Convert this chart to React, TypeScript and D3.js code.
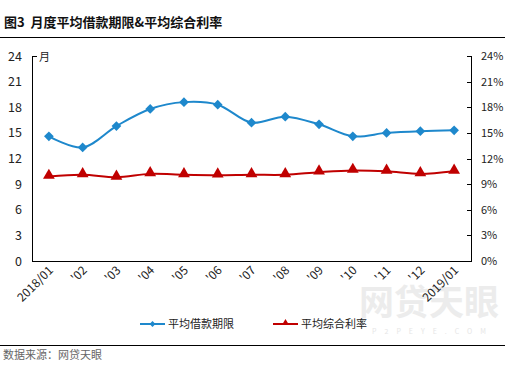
import { useEffect, useRef } from 'react';
import * as d3 from 'd3';

const W = 505;
const H = 365;
const M = { left: 32, right: 471, top: 56, bottom: 261 };

const months = ['2018/01', "'02", "'03", "'04", "'05", "'06", "'07", "'08", "'09", "'10", "'11", "'12", '2019/01'];
const avgTerm = [14.6, 13.3, 15.8, 17.8, 18.6, 18.3, 16.2, 16.9, 16.0, 14.6, 15.0, 15.2, 15.3];
const avgRate = [9.9, 10.1, 9.8, 10.2, 10.1, 10.05, 10.1, 10.1, 10.4, 10.6, 10.5, 10.2, 10.5];
const leftTicks = [0, 3, 6, 9, 12, 15, 18, 21, 24];
const rightTicks = [0, 3, 6, 9, 12, 15, 18, 21, 24];

const BLUE = '#1e88cc';
const RED = '#c00000';
const FONT = '"Noto Sans CJK SC", "Noto Sans", sans-serif';

export default function App() {
  const svgRef = useRef<SVGSVGElement>(null);

  useEffect(() => {
    if (!svgRef.current) return;
    const svg = d3.select(svgRef.current);
    svg.selectAll('*').remove();

    const x = d3.scaleBand<string>().domain(months).range([M.left, M.right]);
    const cx = (m: string) => x(m)! + x.bandwidth() / 2;
    const yL = d3.scaleLinear().domain([0, 24]).range([M.bottom, M.top]);
    const yR = d3.scaleLinear().domain([0, 24]).range([M.bottom, M.top]);

    // title
    svg.append('text')
      .attr('x', 4).attr('y', 27)
      .attr('font-family', FONT).attr('font-size', 13).attr('font-weight', 'bold')
      .attr('fill', '#111')
      .style('white-space', 'pre')
      .text('图3  月度平均借款期限&平均综合利率');
    svg.append('line')
      .attr('x1', 0).attr('x2', W).attr('y1', 37.5).attr('y2', 37.5)
      .attr('stroke', '#000').attr('stroke-width', 1);

    // watermark
    svg.append('text')
      .attr('x', 429).attr('y', 315)
      .attr('text-anchor', 'middle')
      .attr('font-family', FONT).attr('font-size', 35).attr('font-weight', 'bold')
      .attr('fill', '#ececec')
      .text('网贷天眼');
    svg.append('text')
      .attr('x', 433).attr('y', 334)
      .attr('text-anchor', 'middle')
      .attr('font-family', FONT).attr('font-size', 7).attr('letter-spacing', 8)
      .attr('fill', '#e6e6e6')
      .text('P2PEYE.COM');

    // axes lines
    const axes = svg.append('g').attr('stroke', '#000').attr('stroke-width', 1);
    axes.append('line').attr('x1', M.left + 0.5).attr('x2', M.left + 0.5).attr('y1', M.top).attr('y2', M.bottom);
    axes.append('line').attr('x1', M.left).attr('x2', M.left + 5).attr('y1', M.top + 0.5).attr('y2', M.top + 0.5);
    axes.append('line').attr('x1', M.right + 0.5).attr('x2', M.right + 0.5).attr('y1', M.top).attr('y2', M.bottom);
    axes.append('line').attr('x1', M.left).attr('x2', M.right + 1).attr('y1', M.bottom + 0.5).attr('y2', M.bottom + 0.5);
    rightTicks.forEach((t) => {
      axes.append('line')
        .attr('x1', M.right - 4).attr('x2', M.right)
        .attr('y1', Math.round(yR(t)) + 0.5).attr('y2', Math.round(yR(t)) + 0.5);
    });

    // tick labels
    leftTicks.forEach((t) => {
      svg.append('text')
        .attr('x', 22).attr('y', yL(t) + 4.5)
        .attr('text-anchor', 'end')
        .attr('font-family', FONT).attr('font-size', 12.5).attr('fill', '#222')
        .text(String(t));
    });
    rightTicks.forEach((t) => {
      svg.append('text')
        .attr('x', 481).attr('y', yR(t) + 4)
        .attr('font-family', FONT).attr('font-size', 11).attr('fill', '#222')
        .text(`${t}%`);
    });
    svg.append('text')
      .attr('x', 39).attr('y', 61)
      .attr('font-family', FONT).attr('font-size', 11).attr('fill', '#222')
      .text('月');

    months.forEach((m) => {
      const px = cx(m) + 5;
      const py = 271;
      svg.append('text')
        .attr('transform', `translate(${px},${py}) rotate(-45)`)
        .attr('text-anchor', 'end')
        .attr('font-family', FONT).attr('font-size', 12).attr('fill', '#222')
        .text(m);
    });

    // series
    const termLine = d3.line<number>()
      .x((_, i) => cx(months[i]))
      .y((d) => yL(d))
      .curve(d3.curveCatmullRom.alpha(0.5));
    const rateLine = d3.line<number>()
      .x((_, i) => cx(months[i]))
      .y((d) => yR(d))
      .curve(d3.curveCatmullRom.alpha(0.5));

    svg.append('path').datum(avgTerm)
      .attr('fill', 'none').attr('stroke', BLUE).attr('stroke-width', 2)
      .attr('d', termLine);
    svg.append('path').datum(avgRate)
      .attr('fill', 'none').attr('stroke', RED).attr('stroke-width', 2)
      .attr('d', rateLine);

    const diamond = d3.symbol().type(d3.symbolDiamond2).size(60);
    const triangle = d3.symbol().type(d3.symbolTriangle).size(60);

    svg.append('g').selectAll('path').data(avgTerm).join('path')
      .attr('transform', (d, i) => `translate(${cx(months[i])},${yL(d)})`)
      .attr('d', diamond).attr('fill', BLUE);
    svg.append('g').selectAll('path').data(avgRate).join('path')
      .attr('transform', (d, i) => `translate(${cx(months[i])},${yR(d) - 1})`)
      .attr('d', triangle).attr('fill', RED);

    // legend
    const legend = svg.append('g').attr('font-family', FONT).attr('font-size', 11).attr('fill', '#222');
    legend.append('line').attr('x1', 140).attr('x2', 165).attr('y1', 324).attr('y2', 324)
      .attr('stroke', BLUE).attr('stroke-width', 2);
    legend.append('path').attr('transform', 'translate(152.5,324)')
      .attr('d', d3.symbol().type(d3.symbolDiamond2).size(22)()).attr('fill', BLUE);
    legend.append('text').attr('x', 168).attr('y', 328).text('平均借款期限');
    legend.append('line').attr('x1', 273).attr('x2', 298).attr('y1', 324).attr('y2', 324)
      .attr('stroke', RED).attr('stroke-width', 2);
    legend.append('path').attr('transform', 'translate(285.5,323)')
      .attr('d', d3.symbol().type(d3.symbolTriangle).size(22)()).attr('fill', RED);
    legend.append('text').attr('x', 301).attr('y', 328).text('平均综合利率');

    // footer
    svg.append('line')
      .attr('x1', 0).attr('x2', W).attr('y1', 345.5).attr('y2', 345.5)
      .attr('stroke', '#000').attr('stroke-width', 1);
    svg.append('text')
      .attr('x', 3).attr('y', 359)
      .attr('font-family', FONT).attr('font-size', 11).attr('fill', '#666')
      .text('数据来源：网贷天眼');
  }, []);

  return (
    <svg
      ref={svgRef}
      width={W}
      height={H}
      style={{ position: 'fixed', left: 0, top: 0, display: 'block', background: '#fff' }}
    />
  );
}
